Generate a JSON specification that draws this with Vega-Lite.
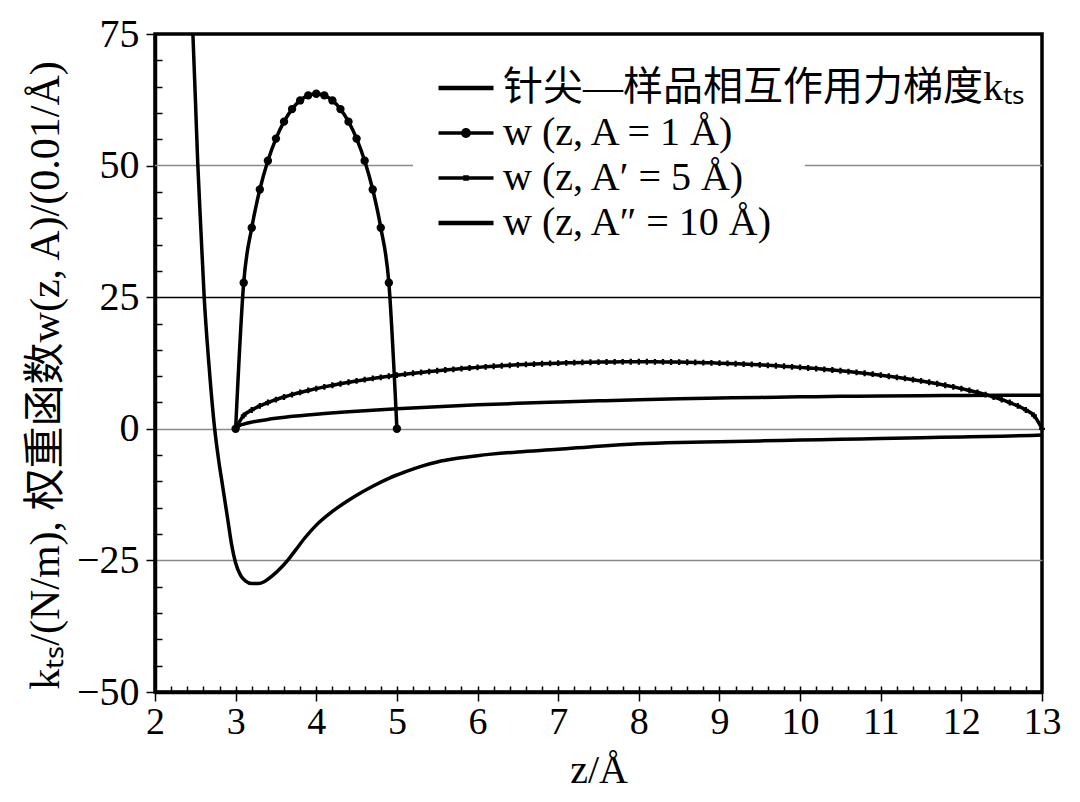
{
  "$schema": "https://vega.github.io/schema/vega-lite/v6.json",
  "width": 887,
  "height": 658,
  "autosize": {"type": "none"},
  "padding": {"left": 155, "top": 34, "right": 38, "bottom": 110},
  "background": "white",
  "datasets": {
    "curves": [
      {"s": "k", "z": 2.47, "v": 75},
      {"s": "k", "z": 2.5, "v": 63},
      {"s": "k", "z": 2.53, "v": 50.5},
      {"s": "k", "z": 2.57, "v": 37.5},
      {"s": "k", "z": 2.61, "v": 25},
      {"s": "k", "z": 2.67, "v": 12},
      {"s": "k", "z": 2.74, "v": 0},
      {"s": "k", "z": 2.79, "v": -6},
      {"s": "k", "z": 2.84, "v": -11},
      {"s": "k", "z": 2.9, "v": -17},
      {"s": "k", "z": 2.95, "v": -22},
      {"s": "k", "z": 3.0, "v": -25.5},
      {"s": "k", "z": 3.06, "v": -27.8},
      {"s": "k", "z": 3.12, "v": -28.9},
      {"s": "k", "z": 3.2, "v": -29.4},
      {"s": "k", "z": 3.28, "v": -29.4},
      {"s": "k", "z": 3.36, "v": -29.0},
      {"s": "k", "z": 3.45, "v": -28.0},
      {"s": "k", "z": 3.55, "v": -26.6},
      {"s": "k", "z": 3.65, "v": -24.9},
      {"s": "k", "z": 3.75, "v": -22.9},
      {"s": "k", "z": 3.86, "v": -20.7},
      {"s": "k", "z": 4.0, "v": -18.3},
      {"s": "k", "z": 4.2, "v": -15.7},
      {"s": "k", "z": 4.48, "v": -12.8},
      {"s": "k", "z": 4.7, "v": -10.9},
      {"s": "k", "z": 4.9, "v": -9.4},
      {"s": "k", "z": 5.1, "v": -8.2},
      {"s": "k", "z": 5.31, "v": -7.1},
      {"s": "k", "z": 5.5, "v": -6.3},
      {"s": "k", "z": 5.75, "v": -5.6},
      {"s": "k", "z": 6.0, "v": -5.1},
      {"s": "k", "z": 6.5, "v": -4.4},
      {"s": "k", "z": 7.0, "v": -3.9},
      {"s": "k", "z": 7.5, "v": -3.3},
      {"s": "k", "z": 8.0, "v": -2.85},
      {"s": "k", "z": 8.5, "v": -2.6},
      {"s": "k", "z": 9.0, "v": -2.45},
      {"s": "k", "z": 9.5, "v": -2.3},
      {"s": "k", "z": 10.0, "v": -2.15},
      {"s": "k", "z": 10.5, "v": -2.0},
      {"s": "k", "z": 11.0, "v": -1.85},
      {"s": "k", "z": 11.5, "v": -1.7},
      {"s": "k", "z": 12.0, "v": -1.55},
      {"s": "k", "z": 12.5, "v": -1.4},
      {"s": "k", "z": 13.0, "v": -1.2},
      {"s": "w1", "z": 3.0, "v": 0},
      {"s": "w1", "z": 3.1, "v": 27.75},
      {"s": "w1", "z": 3.2, "v": 38.2},
      {"s": "w1", "z": 3.3, "v": 45.46},
      {"s": "w1", "z": 3.4, "v": 50.93},
      {"s": "w1", "z": 3.5, "v": 55.13},
      {"s": "w1", "z": 3.6, "v": 58.35},
      {"s": "w1", "z": 3.7, "v": 60.73},
      {"s": "w1", "z": 3.8, "v": 62.38},
      {"s": "w1", "z": 3.9, "v": 63.34},
      {"s": "w1", "z": 4.0, "v": 63.66},
      {"s": "w1", "z": 4.1, "v": 63.34},
      {"s": "w1", "z": 4.2, "v": 62.38},
      {"s": "w1", "z": 4.3, "v": 60.73},
      {"s": "w1", "z": 4.4, "v": 58.35},
      {"s": "w1", "z": 4.5, "v": 55.13},
      {"s": "w1", "z": 4.6, "v": 50.93},
      {"s": "w1", "z": 4.7, "v": 45.46},
      {"s": "w1", "z": 4.8, "v": 38.2},
      {"s": "w1", "z": 4.9, "v": 27.75},
      {"s": "w1", "z": 5.0, "v": 0},
      {"s": "w5", "z": 3.0, "v": 0},
      {"s": "w5", "z": 3.1, "v": 2.534},
      {"s": "w5", "z": 3.2, "v": 3.565},
      {"s": "w5", "z": 3.3, "v": 4.344},
      {"s": "w5", "z": 3.4, "v": 4.99},
      {"s": "w5", "z": 3.5, "v": 5.55},
      {"s": "w5", "z": 3.6, "v": 6.048},
      {"s": "w5", "z": 3.7, "v": 6.497},
      {"s": "w5", "z": 3.8, "v": 6.909},
      {"s": "w5", "z": 3.9, "v": 7.288},
      {"s": "w5", "z": 4.0, "v": 7.639},
      {"s": "w5", "z": 4.1, "v": 7.968},
      {"s": "w5", "z": 4.2, "v": 8.275},
      {"s": "w5", "z": 4.3, "v": 8.564},
      {"s": "w5", "z": 4.4, "v": 8.836},
      {"s": "w5", "z": 4.5, "v": 9.093},
      {"s": "w5", "z": 4.6, "v": 9.336},
      {"s": "w5", "z": 4.7, "v": 9.566},
      {"s": "w5", "z": 4.8, "v": 9.783},
      {"s": "w5", "z": 4.9, "v": 9.99},
      {"s": "w5", "z": 5.0, "v": 10.186},
      {"s": "w5", "z": 5.1, "v": 10.372},
      {"s": "w5", "z": 5.2, "v": 10.549},
      {"s": "w5", "z": 5.3, "v": 10.716},
      {"s": "w5", "z": 5.4, "v": 10.876},
      {"s": "w5", "z": 5.5, "v": 11.027},
      {"s": "w5", "z": 5.6, "v": 11.17},
      {"s": "w5", "z": 5.7, "v": 11.305},
      {"s": "w5", "z": 5.8, "v": 11.434},
      {"s": "w5", "z": 5.9, "v": 11.555},
      {"s": "w5", "z": 6.0, "v": 11.669},
      {"s": "w5", "z": 6.1, "v": 11.777},
      {"s": "w5", "z": 6.2, "v": 11.879},
      {"s": "w5", "z": 6.3, "v": 11.974},
      {"s": "w5", "z": 6.4, "v": 12.063},
      {"s": "w5", "z": 6.5, "v": 12.146},
      {"s": "w5", "z": 6.6, "v": 12.223},
      {"s": "w5", "z": 6.7, "v": 12.294},
      {"s": "w5", "z": 6.8, "v": 12.36},
      {"s": "w5", "z": 6.9, "v": 12.42},
      {"s": "w5", "z": 7.0, "v": 12.475},
      {"s": "w5", "z": 7.1, "v": 12.524},
      {"s": "w5", "z": 7.2, "v": 12.568},
      {"s": "w5", "z": 7.3, "v": 12.607},
      {"s": "w5", "z": 7.4, "v": 12.64},
      {"s": "w5", "z": 7.5, "v": 12.669},
      {"s": "w5", "z": 7.6, "v": 12.691},
      {"s": "w5", "z": 7.7, "v": 12.709},
      {"s": "w5", "z": 7.8, "v": 12.722},
      {"s": "w5", "z": 7.9, "v": 12.73},
      {"s": "w5", "z": 8.0, "v": 12.732},
      {"s": "w5", "z": 8.1, "v": 12.73},
      {"s": "w5", "z": 8.2, "v": 12.722},
      {"s": "w5", "z": 8.3, "v": 12.709},
      {"s": "w5", "z": 8.4, "v": 12.691},
      {"s": "w5", "z": 8.5, "v": 12.669},
      {"s": "w5", "z": 8.6, "v": 12.64},
      {"s": "w5", "z": 8.7, "v": 12.607},
      {"s": "w5", "z": 8.8, "v": 12.568},
      {"s": "w5", "z": 8.9, "v": 12.524},
      {"s": "w5", "z": 9.0, "v": 12.475},
      {"s": "w5", "z": 9.1, "v": 12.42},
      {"s": "w5", "z": 9.2, "v": 12.36},
      {"s": "w5", "z": 9.3, "v": 12.294},
      {"s": "w5", "z": 9.4, "v": 12.223},
      {"s": "w5", "z": 9.5, "v": 12.146},
      {"s": "w5", "z": 9.6, "v": 12.063},
      {"s": "w5", "z": 9.7, "v": 11.974},
      {"s": "w5", "z": 9.8, "v": 11.879},
      {"s": "w5", "z": 9.9, "v": 11.777},
      {"s": "w5", "z": 10.0, "v": 11.669},
      {"s": "w5", "z": 10.1, "v": 11.555},
      {"s": "w5", "z": 10.2, "v": 11.434},
      {"s": "w5", "z": 10.3, "v": 11.305},
      {"s": "w5", "z": 10.4, "v": 11.17},
      {"s": "w5", "z": 10.5, "v": 11.027},
      {"s": "w5", "z": 10.6, "v": 10.876},
      {"s": "w5", "z": 10.7, "v": 10.716},
      {"s": "w5", "z": 10.8, "v": 10.549},
      {"s": "w5", "z": 10.9, "v": 10.372},
      {"s": "w5", "z": 11.0, "v": 10.186},
      {"s": "w5", "z": 11.1, "v": 9.99},
      {"s": "w5", "z": 11.2, "v": 9.783},
      {"s": "w5", "z": 11.3, "v": 9.566},
      {"s": "w5", "z": 11.4, "v": 9.336},
      {"s": "w5", "z": 11.5, "v": 9.093},
      {"s": "w5", "z": 11.6, "v": 8.836},
      {"s": "w5", "z": 11.7, "v": 8.564},
      {"s": "w5", "z": 11.8, "v": 8.275},
      {"s": "w5", "z": 11.9, "v": 7.968},
      {"s": "w5", "z": 12.0, "v": 7.639},
      {"s": "w5", "z": 12.1, "v": 7.288},
      {"s": "w5", "z": 12.2, "v": 6.909},
      {"s": "w5", "z": 12.3, "v": 6.497},
      {"s": "w5", "z": 12.4, "v": 6.048},
      {"s": "w5", "z": 12.5, "v": 5.55},
      {"s": "w5", "z": 12.6, "v": 4.99},
      {"s": "w5", "z": 12.7, "v": 4.344},
      {"s": "w5", "z": 12.8, "v": 3.565},
      {"s": "w5", "z": 12.9, "v": 2.534},
      {"s": "w5", "z": 13.0, "v": 0},
      {"s": "w10", "z": 3.0, "v": 0},
      {"s": "w10", "z": 3.05, "v": 0.636},
      {"s": "w10", "z": 3.1, "v": 0.898},
      {"s": "w10", "z": 3.2, "v": 1.267},
      {"s": "w10", "z": 3.3, "v": 1.548},
      {"s": "w10", "z": 3.4, "v": 1.783},
      {"s": "w10", "z": 3.5, "v": 1.988},
      {"s": "w10", "z": 3.75, "v": 2.419},
      {"s": "w10", "z": 4.0, "v": 2.775},
      {"s": "w10", "z": 4.5, "v": 3.354},
      {"s": "w10", "z": 5.0, "v": 3.82},
      {"s": "w10", "z": 5.5, "v": 4.211},
      {"s": "w10", "z": 6.0, "v": 4.546},
      {"s": "w10", "z": 6.5, "v": 4.838},
      {"s": "w10", "z": 7.0, "v": 5.093},
      {"s": "w10", "z": 7.5, "v": 5.317},
      {"s": "w10", "z": 8.0, "v": 5.513},
      {"s": "w10", "z": 8.5, "v": 5.685},
      {"s": "w10", "z": 9.0, "v": 5.835},
      {"s": "w10", "z": 9.5, "v": 5.963},
      {"s": "w10", "z": 10.0, "v": 6.073},
      {"s": "w10", "z": 10.5, "v": 6.164},
      {"s": "w10", "z": 11.0, "v": 6.238},
      {"s": "w10", "z": 11.5, "v": 6.294},
      {"s": "w10", "z": 12.0, "v": 6.334},
      {"s": "w10", "z": 12.5, "v": 6.358},
      {"s": "w10", "z": 13.0, "v": 6.366}
    ]
  },
  "layer": [
    {
      "data": {"values": [
        {"y": 50, "z": 2, "z2": 5.2},
        {"y": 50, "z": 10.06, "z2": 13}
      ]},
      "mark": {"type": "rule", "color": "#8a8a8a", "strokeWidth": 1.5},
      "encoding": {
        "x": {"field": "z", "type": "quantitative", "scale": {"domain": [2, 13], "nice": false, "zero": false}, "axis": null},
        "x2": {"field": "z2"},
        "y": {"field": "y", "type": "quantitative", "scale": {"domain": [-50, 75], "nice": false, "zero": false}, "axis": null},
        "detail": {"field": "z", "type": "quantitative"}
      }
    },
    {
      "data": {"name": "curves"},
      "mark": {"type": "line", "interpolate": "monotone", "color": "black", "strokeWidth": 3.5, "clip": true},
      "encoding": {
        "x": {
          "field": "z", "type": "quantitative",
          "scale": {"domain": [2, 13], "nice": false, "zero": false},
          "axis": {
            "orient": "bottom",
            "values": [2, 3, 4, 5, 6, 7, 8, 9, 10, 11, 12, 13],
            "format": "d",
            "grid": false,
            "tickSize": 9,
            "tickWidth": 1.5,
            "tickColor": "black",
            "domainColor": "black",
            "domainWidth": 3.5,
            "labelFont": "Liberation Serif",
            "labelFontSize": 38,
            "labelColor": "black",
            "labelPadding": 2,
            "labelFlush": false,
            "title": "z/Å",
            "titleFont": "Liberation Serif",
            "titleFontSize": 40,
            "titleFontWeight": "normal",
            "titleColor": "black",
            "titleBaseline": "middle",
            "titleY": 78
          }
        },
        "y": {
          "field": "v", "type": "quantitative",
          "scale": {"domain": [-50, 75], "nice": false, "zero": false},
          "axis": {
            "orient": "left",
            "values": [-50, -25, 0, 25, 50, 75],
            "grid": true,
            "gridWidth": 1.5,
            "gridColor": {"condition": {"test": "datum.value === 25", "value": "black"}, "value": "#8a8a8a"},
            "gridOpacity": {"condition": {"test": "datum.value === 50 || datum.value === 75 || datum.value === -50", "value": 0}, "value": 1},
            "tickSize": 9,
            "tickWidth": 1.5,
            "tickColor": "black",
            "domainColor": "black",
            "domainWidth": 3.5,
            "labelFont": "Liberation Serif",
            "labelFontSize": 40,
            "labelColor": "black",
            "labelPadding": 7,
            "labelFlush": false,
            "title": "kₜₛ/(N/m), 权重函数w(z, A)/(0.01/Å)",
            "titleFont": "Liberation Serif, Noto Sans CJK SC",
            "titleFontSize": 42,
            "titleFontWeight": "normal",
            "titleColor": "black",
            "titleBaseline": "middle",
            "titleAlign": "center",
            "titleX": -110,
            "titleY": 341
          }
        },
        "detail": {"field": "s", "type": "nominal"}
      }
    },
    {
      "data": {"name": "curves"},
      "transform": [{"filter": "datum.s === 'w1'"}],
      "mark": {"type": "point", "filled": true, "color": "black", "size": 70, "opacity": 1},
      "encoding": {
        "x": {"field": "z", "type": "quantitative", "scale": {"domain": [2, 13], "nice": false, "zero": false}, "axis": null},
        "y": {"field": "v", "type": "quantitative", "scale": {"domain": [-50, 75], "nice": false, "zero": false}, "axis": null}
      }
    },
    {
      "data": {"name": "curves"},
      "transform": [{"filter": "datum.s === 'w5'"}],
      "mark": {"type": "point", "shape": "cross", "filled": true, "color": "black", "size": 34, "opacity": 1},
      "encoding": {
        "x": {"field": "z", "type": "quantitative", "scale": {"domain": [2, 13], "nice": false, "zero": false}, "axis": null},
        "y": {"field": "v", "type": "quantitative", "scale": {"domain": [-50, 75], "nice": false, "zero": false}, "axis": null}
      }
    },
    {
      "data": {"name": "curves"},
      "mark": {"type": "point", "filled": true, "color": "black", "opacity": 0},
      "encoding": {
        "x": {
          "field": "z", "type": "quantitative",
          "scale": {"domain": [2, 13], "nice": false, "zero": false},
          "axis": {
            "orient": "bottom",
            "values": [2.2, 2.4, 2.6, 2.8, 3, 3.2, 3.4, 3.6, 3.8, 4, 4.2, 4.4, 4.6, 4.8, 5, 5.2, 5.4, 5.6, 5.8, 6, 6.2, 6.4, 6.6, 6.8, 7, 7.2, 7.4, 7.6, 7.8, 8, 8.2, 8.4, 8.6, 8.8, 9, 9.2, 9.4, 9.6, 9.8, 10, 10.2, 10.4, 10.6, 10.8, 11, 11.2, 11.4, 11.6, 11.8, 12, 12.2, 12.4, 12.6, 12.8],
            "labels": false,
            "domain": false,
            "grid": false,
            "tickSize": -6,
            "tickWidth": 1.5,
            "tickColor": "black",
            "title": null
          }
        },
        "y": {
          "field": "v", "type": "quantitative",
          "scale": {"domain": [-50, 75], "nice": false, "zero": false},
          "axis": {
            "orient": "left",
            "values": [-45, -40, -35, -30, -20, -15, -10, -5, 5, 10, 15, 20, 30, 35, 40, 45, 55, 60, 65, 70],
            "labels": false,
            "domain": false,
            "grid": false,
            "tickSize": -7,
            "tickWidth": 1.5,
            "tickColor": "black",
            "title": null
          }
        },
        "shape": {
          "field": "s", "type": "nominal",
          "scale": {
            "domain": ["k", "w1", "w5", "w10"],
            "range": [
              "M-2.5,-0.2L2.5,-0.2L2.5,0.2L-2.5,0.2Z",
              "M-2.5,-0.16L2.5,-0.16L2.5,0.16L-2.5,0.16ZM-0.45,0A0.45,0.45,0,1,1,0.45,0A0.45,0.45,0,1,1,-0.45,0Z",
              "M-2.5,-0.16L2.5,-0.16L2.5,0.16L-2.5,0.16ZM-0.25,-0.25L0.25,-0.25L0.25,0.25L-0.25,0.25Z",
              "M-2.5,-0.2L2.5,-0.2L2.5,0.2L-2.5,0.2Z"
            ]
          },
          "legend": {
            "orient": "none",
            "legendX": 291,
            "legendY": 34,
            "padding": 0,
            "title": null,
            "labelFont": "Liberation Serif, Noto Sans CJK SC",
            "labelFontSize": 40,
            "labelColor": "black",
            "labelLimit": 700,
            "labelOffset": 17,
            "rowPadding": 5,
            "symbolSize": 484,
            "symbolStrokeWidth": 0,
            "symbolFillColor": "black",
            "symbolStrokeColor": "black",
            "symbolOpacity": 1,
            "labelExpr": "datum.label == 'k' ? '针尖—样品相互作用力梯度kₜₛ' : datum.label == 'w1' ? 'w (z, A = 1 Å)' : datum.label == 'w5' ? 'w (z, A′ = 5 Å)' : 'w (z, A″ = 10 Å)'",
            "encode": {
              "symbols": {
                "update": {
                  "opacity": {"value": 1},
                  "fill": {"value": "black"},
                  "stroke": {"value": "black"},
                  "strokeWidth": {"value": 0}
                }
              }
            }
          }
        }
      }
    }
  ],
  "resolve": {"axis": {"x": "independent", "y": "independent"}},
  "config": {
    "view": {"stroke": "black", "strokeWidth": 3.5},
    "font": "Liberation Serif"
  }
}
